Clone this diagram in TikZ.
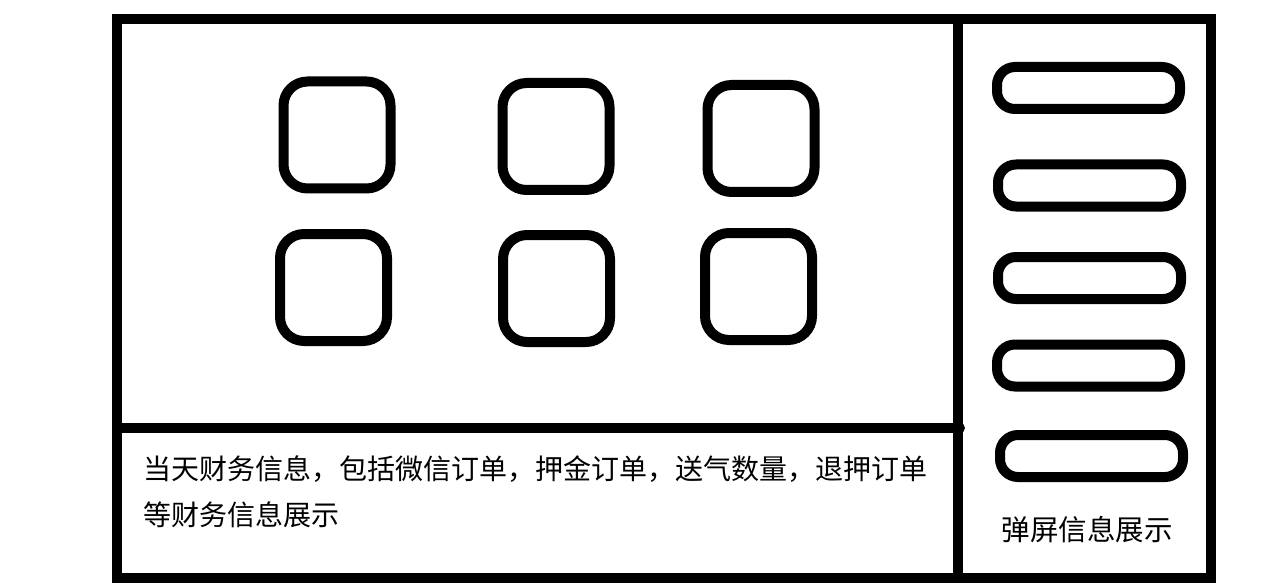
\documentclass[tikz,border=0pt]{standalone}
\usepackage{fontspec}
\newfontfamily\cjk{Noto Sans CJK SC}
\begin{document}
\begin{tikzpicture}[x=1pt,y=-1pt,
  frame/.style={line width=10pt,draw=black},
  tile/.style={draw=black,line width=10pt,rounded corners=24pt,minimum width=107pt,minimum height=107pt,inner sep=0pt},
  pill/.style={draw=black,line width=10pt,rounded corners=18pt,minimum width=183pt,minimum height=42pt,inner sep=0pt},
  label/.style={font=\cjk\fontsize{28pt}{46pt}\selectfont,inner sep=0pt,text=black},
  poplabel/.style={font=\cjk\fontsize{28.5pt}{34pt}\selectfont,inner sep=0pt,text=black}]
\useasboundingbox (0,0) rectangle (1284,588);
% outer frame and dividers
\draw[frame] (117,19) rectangle (1211,578);
\draw[frame] (958,19) -- (958,578);
\coordinate (hl) at (117,428);
\coordinate (hr) at (960,428);
\draw[frame,line cap=round] (hl) -- (hr);
% tiles
\node[tile] (t1) at (337,135) {};
\node[tile] (t2) at (556,136.5) {};
\node[tile] (t3) at (761,138.5) {};
\node[tile] (t4) at (333.5,287.5) {};
\node[tile] (t5) at (556.5,288.5) {};
\node[tile] (t6) at (758.5,286.5) {};
% pills
\node[pill] (p1) at (1088.5,88) {};
\node[pill] (p2) at (1089.5,185.5) {};
\node[pill] (p3) at (1089.5,278) {};
\node[pill] (p4) at (1088.5,365.5) {};
\node[pill] (p5) at (1091.5,456) {};
% texts
\node[label,anchor=west,align=left] (fin) at (143,492) {当天财务信息，包括微信订单，押金订单，送气数量，退押订单\\等财务信息展示};
\node[poplabel] (pop) at (1087,530) {弹屏信息展示};
\end{tikzpicture}
\end{document}
